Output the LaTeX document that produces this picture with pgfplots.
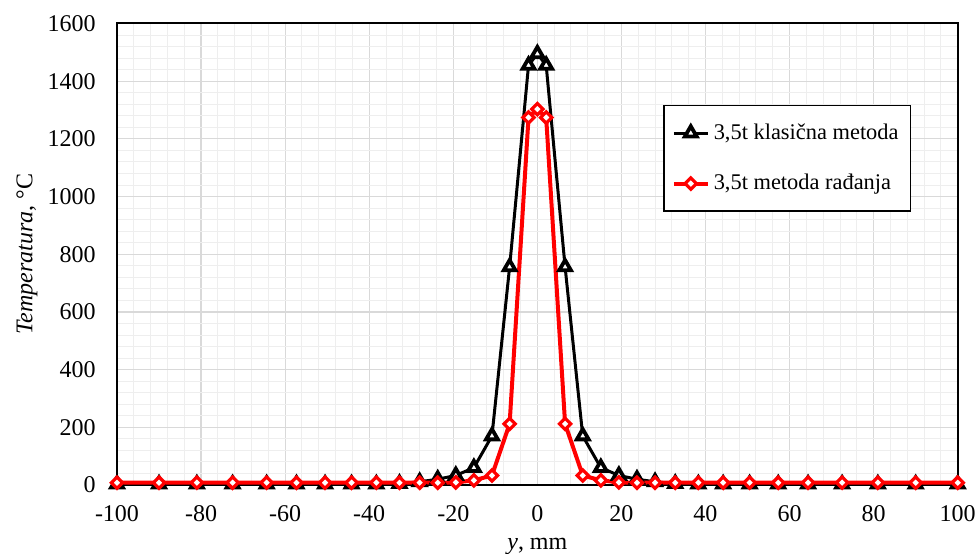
\documentclass[border=0pt]{standalone}
\usepackage{fontspec}
\setmainfont{Liberation Serif}
\usepackage{pgfplots}
\pgfplotsset{compat=1.18}
\definecolor{gmaj}{RGB}{217,217,217}
\definecolor{gmin}{RGB}{238,238,238}
\definecolor{pred}{RGB}{255,0,0}
\begin{document}
\begin{tikzpicture}
\begin{axis}[
 scale only axis, width=420.35pt, height=230.75pt,
 xmin=-100, xmax=100, ymin=0, ymax=1600,
 xtick distance=20, ytick distance=200,
 minor x tick num=4, minor y tick num=4,
 grid=both,
 major grid style={gmaj, line width=0.6pt},
 minor grid style={gmin, line width=0.5pt},
 major tick length=0pt, minor tick length=0pt,
 axis line style={black, line width=1pt},
 /pgf/number format/assume math mode=true,
 /pgf/number format/1000 sep={},
 tick label style={font=\fontsize{12}{14}\selectfont},
 xticklabel style={anchor=base, yshift=-18.35pt},
 yticklabel style={anchor=east, inner xsep=0pt, xshift=-10.5pt},
 xlabel={\textit{y}, mm}, ylabel={\textit{Temperatura}, °C},
 label style={font=\fontsize{12}{14}\selectfont},
 xlabel style={at={(axis description cs:0.5,-0.1395)}, anchor=base},
 ylabel style={at={(axis description cs:-0.1071,0.5)}, anchor=center},
 legend style={at={(axis description cs:0.6495,0.8234)}, anchor=north west,
   draw=black, line width=0.75pt, fill=white,
   font=\fontsize{11.2}{13}\selectfont,
   inner xsep=4pt, inner ysep=7pt, row sep=12pt},
 legend cell align=left,
 legend image code/.code={\draw[mark repeat=2,mark phase=2] plot coordinates {(0pt,0pt) (8.5pt,0pt) (17pt,0pt)};},
]
\coordinate (A) at (rel axis cs:0,0);
\coordinate (B) at (rel axis cs:1,1);
\addplot[black, line width=1.5pt, mark=triangle*, mark size=3.4pt,
  mark options={fill=white, solid, line width=1.9pt}] coordinates {
 (-100,3) (-90,3) (-81,3) (-72.5,3) (-64.4,3) (-57.3,3) (-50.5,3) (-44.2,3) (-38.3,3)
 (-32.8,5) (-28,11) (-23.7,20) (-19.4,33) (-15.1,60) (-10.8,170) (-6.6,756) (-2.1,1455)
 (0,1495)
 (2.1,1455) (6.6,756) (10.8,170) (15.1,60) (19.4,33) (23.7,20) (28,11) (32.8,5)
 (38.3,3) (44.2,3) (50.5,3) (57.3,3) (64.4,3) (72.5,3) (81,3) (90,3) (100,3)
};
\addlegendentry{3,5t klasična metoda}
\addplot[pred, line width=2pt, mark=square*, mark size=2pt,
  mark options={fill=white, solid, rotate=45, line width=1.6pt}] coordinates {
 (-100,8) (-90,8) (-81,8) (-72.5,8) (-64.4,8) (-57.3,8) (-50.5,8) (-44.2,8) (-38.3,8)
 (-32.8,8) (-28,8) (-23.7,8) (-19.4,9) (-15.1,16) (-10.8,33) (-6.6,212) (-2.1,1274)
 (0,1303)
 (2.1,1274) (6.6,212) (10.8,33) (15.1,16) (19.4,9) (23.7,8) (28,8) (32.8,8)
 (38.3,8) (44.2,8) (50.5,8) (57.3,8) (64.4,8) (72.5,8) (81,8) (90,8) (100,8)
};
\addlegendentry{3,5t metoda rađanja}
\end{axis}
\pgfresetboundingbox
\path[use as bounding box] ([shift={(-58.5pt,-34.5pt)}]A) rectangle ([shift={(10.65pt,11.75pt)}]B);
\end{tikzpicture}
\end{document}
